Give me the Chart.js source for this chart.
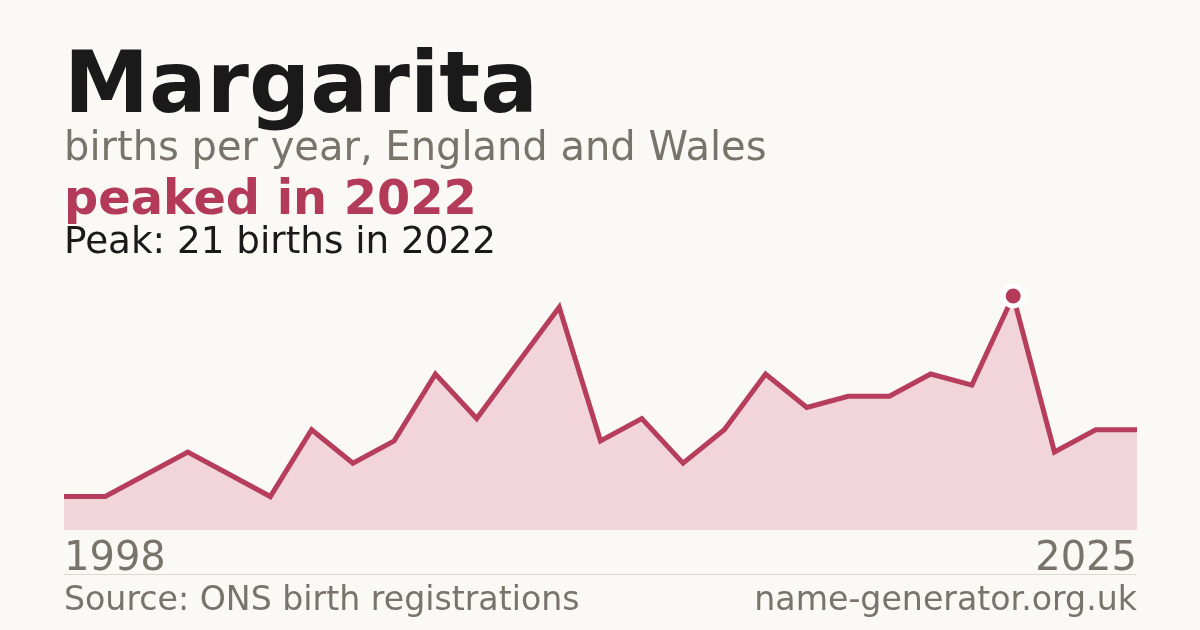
<!DOCTYPE html>
<html><head><meta charset="utf-8">
<script src="https://cdn.jsdelivr.net/npm/chart.js@4.4.1/dist/chart.umd.min.js"></script>
<style>
html,body{margin:0;padding:0;background:#faf9f5;}
#wrap{position:relative;width:1200px;height:630px;overflow:hidden;font-family:"DejaVu Sans",sans-serif;}
canvas{position:absolute;left:0;top:0;}
.t{position:absolute;white-space:nowrap;line-height:1;}
#title{left:64px;top:40px;font-size:85.5px;font-weight:bold;color:#1a1a1a;}
#sub{left:64px;top:126px;font-size:40px;color:#78746c;}
#peaked{left:64px;top:174px;font-size:47.8px;font-weight:bold;color:#b33a58;}
#peak{left:64px;top:222px;font-size:37.3px;color:#1a1a1a;}
#x0{left:64px;top:536px;font-size:40px;color:#78746c;}
#x1{right:63px;top:536px;font-size:40px;color:#78746c;}
#sep{position:absolute;left:64px;width:1073px;top:574px;height:1px;background:#dcd9d3;}
#src{left:64px;top:582px;font-size:33.2px;color:#78746c;}
#site{right:63px;top:582px;font-size:33.2px;color:#78746c;}
</style></head>
<body><div id="wrap">
<canvas id="c" width="1200" height="630"></canvas>
<div class="t" id="title">Margarita</div>
<div class="t" id="sub">births per year, England and Wales</div>
<div class="t" id="peaked">peaked in 2022</div>
<div class="t" id="peak">Peak: 21 births in 2022</div>
<div class="t" id="x0">1998</div>
<div class="t" id="x1">2025</div>
<div id="sep"></div>
<div class="t" id="src">Source: ONS birth registrations</div>
<div class="t" id="site">name-generator.org.uk</div>
</div>
<script>
const years = ["1998","1999","2000","2001","2002","2003","2004","2005","2006","2007","2008","2009","2010","2011","2012","2013","2014","2015","2016","2017","2018","2019","2021","2022","2023","2024","2025"];
const births = [3,3,5,7,5,3,9,6,8,14,10,15,20,8,10,6,9,14,11,12,12,14,13,21,7,9,9];
const peakYear = "2022";
const peakIndex = years.indexOf(peakYear);

new Chart(document.getElementById('c'), {
  type: 'line',
  data: {
    labels: years,
    datasets: [{
      data: births,
      borderColor: '#b63d5b',
      borderWidth: 5,
      backgroundColor: '#f2d5db',
      fill: 'origin',
      tension: 0,
      clip: false,
      pointRadius: births.map((v,i)=> i===peakIndex ? 10 : 0),
      pointBackgroundColor: '#b33a58',
      pointBorderColor: '#ffffff',
      pointBorderWidth: births.map((v,i)=> i===peakIndex ? 5 : 0),
      pointHoverRadius: 0
    }]
  },
  options: {
    responsive: false,
    animation: false,
    events: [],
    layout: { padding: { left: 64, right: 63, top: 296, bottom: 100 } },
    plugins: { legend: { display: false }, tooltip: { enabled: false } },
    scales: {
      x: { display: false, offset: false },
      y: { display: false, min: 0, max: 21 }
    }
  }
});
</script>
</body></html>
